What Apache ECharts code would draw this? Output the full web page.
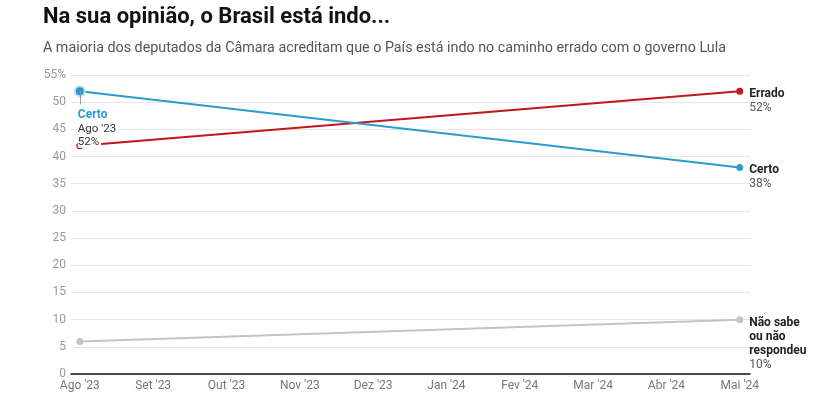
<!DOCTYPE html>
<html>
<head>
<meta charset="utf-8">
<script src="https://cdn.jsdelivr.net/npm/echarts@6/dist/echarts.min.js"></script>
<style>
  html, body { margin: 0; padding: 0; background: #fff; }
  #chart { width: 828px; height: 412px; }
</style>
</head>
<body>
<div id="chart"></div>
<script>
var months = ["Ago '23", "Set '23", "Out '23", "Nov '23", "Dez '23", "Jan '24", "Fev '24", "Mar '24", "Abr '24", "Mai '24"];
var monthIdx = [0, 1, 2, 3, 4, 5, 6, 7, 8, 9];
var pointIdx = [0, 9];
var certo = [52, 38];
var errado = [42, 52];
var naoSabe = [6, 10];
var yTicks = [0, 5, 10, 15, 20, 25, 30, 35, 40, 45, 50, 55];

var font = 'Roboto, "Noto Sans", sans-serif';

function pairs(vals) {
	return vals.map(function (v, i) { return [pointIdx[i], v]; });
}

function endLabel(name, val) {
	return {
		show: true,
		position: 'right',
		distance: 6,
		verticalAlign: 'top',
		align: 'left',
		offset: [0, -4],
		formatter: '{b|' + name + '}\n{v|' + val + '%}',
		rich: {
			b: { fontFamily: font, fontSize: 12, fontWeight: 'bold', color: '#222', lineHeight: 14 },
			v: { fontFamily: font, fontSize: 12, color: '#555', lineHeight: 14 }
		}
	};
}

var chart = echarts.init(document.getElementById('chart'));

var certoData = pairs(certo).map(function (p, i) {
	var d = { value: p };
	if (i === certo.length - 1) d.label = endLabel('Certo', certo[i]);
	if (i === 0) {
		d.symbolSize = 10;
		d.itemStyle = { borderColor: '#c8dde8', borderWidth: 2 };
		d.label = {
			show: true,
			position: 'bottom',
			distance: 11,
			align: 'left',
			offset: [-2, 0],
			formatter: '{c|Certo}\n{m|' + months[0] + '}\n{m|' + certo[0] + '%}',
			rich: {
				c: { fontFamily: font, fontSize: 12, fontWeight: 'bold', color: '#2c9ccc', lineHeight: 14, backgroundColor: '#fff' },
				m: { fontFamily: font, fontSize: 11.5, color: '#333', lineHeight: 13, backgroundColor: '#fff', padding: [0, 2, 0, 0] }
			}
		};
	}
	return d;
});

var erradoData = pairs(errado).map(function (p, i) {
	var d = { value: p };
	if (i === errado.length - 1) d.label = endLabel('Errado', errado[i]);
	return d;
});

var naoData = pairs(naoSabe).map(function (p, i) {
	var d = { value: p };
	if (i === naoSabe.length - 1) d.label = endLabel('Não sabe\nou não\nrespondeu'.replace(/\n/g, '}\n{b|'), naoSabe[i]);
	return d;
});

var option = {
	animation: false,
	textStyle: { fontFamily: font },
	title: [{
		text: 'Na sua opinião, o Brasil está indo...',
		left: 43,
		top: 6,
		padding: 0,
		textStyle: { fontFamily: font, fontSize: 22, fontWeight: 'bold', color: '#121212' }
	}, {
		text: 'A maioria dos deputados da Câmara acreditam que o País está indo no caminho errado com o governo Lula',
		left: 43,
		top: 41,
		padding: 0,
		textStyle: { fontFamily: font, fontSize: 14.3, fontWeight: 'normal', color: '#555' }
	}],
	grid: { left: 71, right: 78, top: 75, bottom: 38, containLabel: false },
	xAxis: {
		type: 'value',
		min: -0.12,
		max: 9.14,
		axisLine: { show: true, lineStyle: { color: '#111', width: 1.5 } },
		axisTick: { show: false },
		splitLine: { show: false },
		axisLabel: {
			customValues: monthIdx,
			formatter: function (v) { return months[Math.round(v)]; },
			color: '#777',
			fontSize: 12,
			margin: 6
		}
	},
	yAxis: {
		type: 'value',
		min: 0,
		max: 55,
		interval: 5,
		axisLine: { show: false },
		axisTick: { show: false },
		splitLine: { lineStyle: { color: '#e6e6e6' } },
		axisLabel: {
			customValues: yTicks,
			formatter: function (v) { return v === 55 ? '55%' : v; },
			color: '#999',
			fontSize: 12,
			margin: 5
		}
	},
	series: [{
		name: 'Não sabe ou não respondeu',
		type: 'line',
		data: naoData,
		symbol: 'circle',
		symbolSize: 7,
		color: '#c4c4c4',
		lineStyle: { width: 2, color: '#c4c4c4' }
	}, {
		name: 'Errado',
		type: 'line',
		data: erradoData,
		symbol: 'circle',
		symbolSize: 7,
		color: '#c4161c',
		lineStyle: { width: 2, color: '#c4161c' }
	}, {
		name: 'Certo',
		type: 'line',
		z: 3,
		data: certoData,
		symbol: 'circle',
		symbolSize: 7,
		color: '#2c9ccc',
		lineStyle: { width: 2, color: '#2c9ccc' },
		markLine: {
			silent: true,
			symbol: 'none',
			label: { show: false },
			lineStyle: { color: '#999', width: 1, type: 'solid' },
			data: [[{ coord: [pointIdx[0], certo[0]] }, { coord: [pointIdx[0], 49.6] }]]
		}
	}]
};

chart.setOption(option);
</script>
</body>
</html>
